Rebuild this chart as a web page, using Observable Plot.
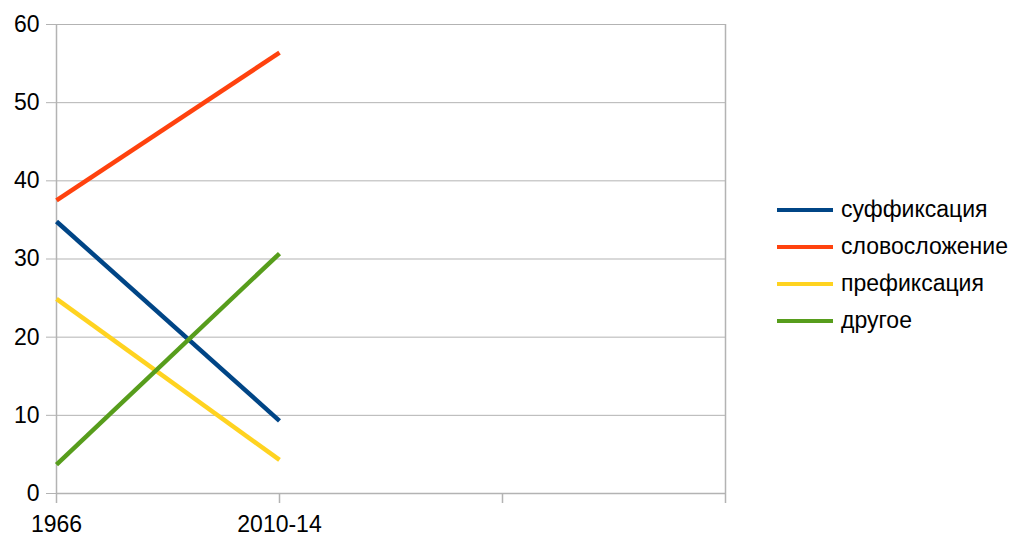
<!DOCTYPE html>
<html><head><meta charset="utf-8">
<script src="https://cdn.jsdelivr.net/npm/d3@7"></script>
<script src="https://cdn.jsdelivr.net/npm/@observablehq/plot@0.6"></script>
<style>
body{margin:0;background:#fff;font-family:"Liberation Sans",Arial,sans-serif;}
#wrap{position:relative;width:1017px;height:535px;}
#legend{position:absolute;left:777px;top:191px;font-size:23px;color:#000;}
.item{display:flex;align-items:center;height:37px;}
.sw{width:56px;height:4px;margin-right:8px;}
</style></head><body>
<div id="wrap"><div id="chart"></div><div id="legend"></div></div>
<script>
const categories = ["1966", "2010-14", "", ""];
const seriesNames = ["суффиксация", "словосложение", "префиксация", "другое"];
const colors = ["#004586", "#ff420e", "#ffd320", "#579d1c"];
const suffixation = [34.8, 9.3];
const compounding = [37.5, 56.4];
const prefixation = [24.9, 4.3];
const other = [3.7, 30.7];
const yTicks = [0, 10, 20, 30, 40, 50, 60];

const seriesValues = [suffixation, compounding, prefixation, other];
const data = [];
seriesValues.forEach((vals, s) => vals.forEach((v, i) => data.push({series: seriesNames[s], idx: i, value: v})));

const chart = Plot.plot({
  width: 1017, height: 535,
  marginLeft: 56, marginRight: 292, marginTop: 24, marginBottom: 42,
  style: {fontFamily: '"Liberation Sans", Arial, sans-serif', fontSize: "23px", color: "#000", background: "#fff", overflow: "visible"},
  x: {type: "linear", domain: [0, categories.length - 1], label: null},
  y: {domain: [0, 60], label: null},
  color: {domain: seriesNames, range: colors},
  marks: [
    Plot.gridY(yTicks, {stroke: "#b3b3b3", strokeOpacity: 1, strokeWidth: 1}),
    Plot.ruleX([0, categories.length - 1], {stroke: "#b3b3b3", strokeWidth: 1.5}),
    Plot.ruleY([0], {stroke: "#b3b3b3", strokeWidth: 1.5}),
    Plot.axisY(yTicks, {tickSize: 10, tickPadding: 7, stroke: "#b3b3b3", strokeOpacity: 1, fill: "#000", fontSize: 23}),
    Plot.axisX(d3.range(categories.length), {tickSize: 10, tickPadding: 12, stroke: "#b3b3b3", strokeOpacity: 1, strokeWidth: 1.5, fill: "#000", fontSize: 23, tickFormat: i => categories[i]}),
    Plot.line(data, {x: "idx", y: "value", z: "series", stroke: "series", strokeWidth: 4.5, strokeLinecap: "butt"})
  ]
});
document.getElementById("chart").appendChild(chart);

const leg = document.getElementById("legend");
seriesNames.forEach((n, i) => {
  const it = document.createElement("div"); it.className = "item";
  const sw = document.createElement("div"); sw.className = "sw"; sw.style.background = colors[i];
  const t = document.createElement("span"); t.textContent = n;
  it.appendChild(sw); it.appendChild(t); leg.appendChild(it);
});
</script></body></html>
